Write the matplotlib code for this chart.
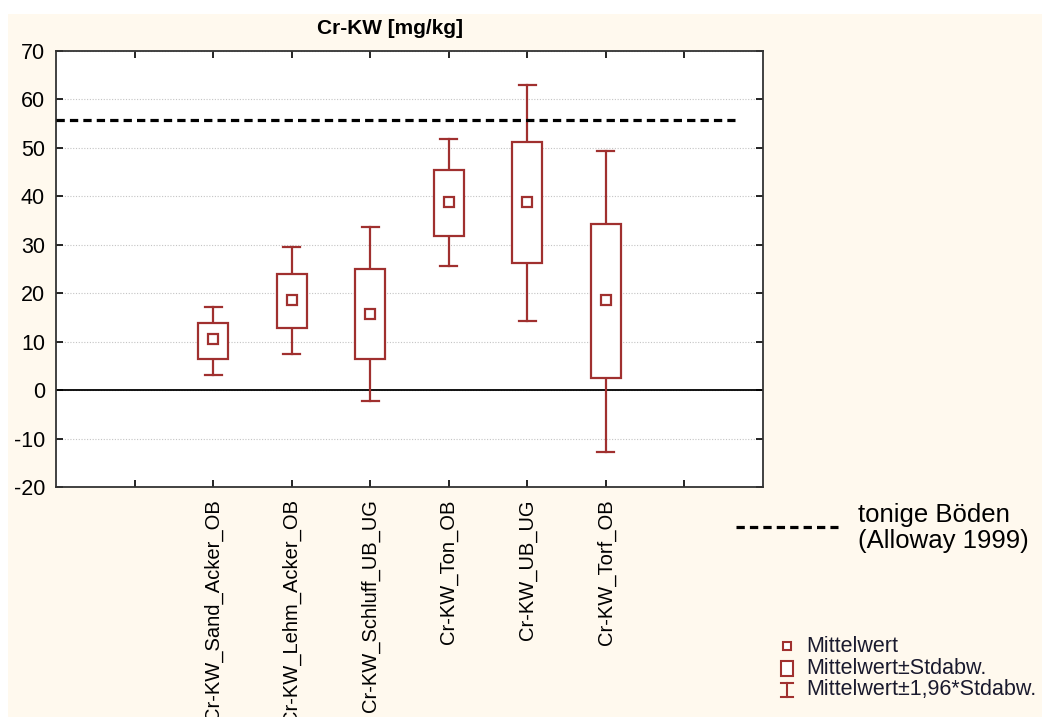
import matplotlib
matplotlib.use("Agg")
import matplotlib.pyplot as plt
from matplotlib.patches import Rectangle
from matplotlib.lines import Line2D

plt.rcParams['font.family'] = ['Liberation Sans', 'DejaVu Sans']
plt.rcParams['axes.unicode_minus'] = False

# Daten
categories = ['Cr-KW_Sand_Acker_OB', 'Cr-KW_Lehm_Acker_OB', 'Cr-KW_Schluff_UB_UG',
              'Cr-KW_Ton_OB', 'Cr-KW_UB_UG', 'Cr-KW_Torf_OB']
mean = [10.5, 18.6, 15.8, 38.8, 38.8, 18.6]
sd_low = [6.5, 12.8, 6.5, 31.9, 26.2, 2.6]
sd_high = [13.8, 24.0, 24.9, 45.4, 51.2, 34.3]
ci_low = [3.2, 7.4, -2.3, 25.6, 14.3, -12.8]
ci_high = [17.1, 29.5, 33.7, 51.8, 63.0, 49.4]
reference_value = 55.7
reference_label = 'tonige Böden\n(Alloway 1999)'

red = '#a0302f'
cream = '#fff9ee'
W, H = 1042, 717

fig = plt.figure(figsize=(W / 100, H / 100), dpi=100, facecolor='white')
fig.add_artist(Rectangle((8 / W, 0), 1, 1 - 14 / H, transform=fig.transFigure,
                         facecolor=cream, edgecolor='none', zorder=0))

ax = fig.add_axes([56 / W, 1 - 487 / H, (763 - 56) / W, (487 - 51) / H])
ax.set_facecolor('white')

positions = list(range(2, 2 + len(categories)))
box_w = 0.386
cap_w = 0.216

for x, m, sl, sh, cl, ch in zip(positions, mean, sd_low, sd_high, ci_low, ci_high):
    ax.add_patch(Rectangle((x - box_w / 2, sl), box_w, sh - sl, facecolor='white',
                           edgecolor=red, lw=1.6, zorder=4))
    ax.plot([x, x], [sh, ch], color=red, lw=1.6, zorder=3)
    ax.plot([x, x], [cl, sl], color=red, lw=1.6, zorder=3)
    ax.plot([x - cap_w / 2, x + cap_w / 2], [ch, ch], color=red, lw=1.6, zorder=3)
    ax.plot([x - cap_w / 2, x + cap_w / 2], [cl, cl], color=red, lw=1.6, zorder=3)
    ax.plot(x, m, marker='s', ms=7, mfc='white', mec=red, mew=1.6, zorder=5)

ax.axhline(0, color='black', lw=1.3, zorder=2)
ax.plot([0, 8.64], [reference_value, reference_value], color='black', lw=2.3,
        linestyle=(0, (2.6, 1.6)), zorder=6)

ax.set_xlim(0, 9)
ax.set_ylim(-20, 70)
ax.set_yticks(range(-20, 71, 10))
ax.set_xticks(range(1, 9))
ax.set_xticklabels([''] + categories + [''], rotation=90, fontsize=14.5)
ax.tick_params(axis='y', labelsize=15.5, direction='in', length=5, width=1.2,
               right=True, pad=8)
ax.tick_params(axis='x', direction='in', length=5, width=1.2, top=True, pad=9)
ax.yaxis.grid(True, linestyle=(0, (1, 1.5)), color='#c4c4c4', lw=0.8)
ax.set_axisbelow(True)
for s in ax.spines.values():
    s.set_color('#333333')
    s.set_linewidth(1.3)

fig.text(390 / W, 1 - 28 / H, 'Cr-KW [mg/kg]', ha='center', va='center',
         fontsize=15, fontweight='bold')

# Legende Referenzlinie
fig.add_artist(Line2D([736 / W, 838 / W], [1 - 527 / H] * 2, color='black', lw=2.3,
                      linestyle=(0, (2.6, 1.6)), transform=fig.transFigure))
fig.text(858 / W, 1 - 503 / H, reference_label, ha='left', va='top',
         fontsize=18.5, linespacing=1.12)

# Legende Boxplot
lx = 787 / W
fig.add_artist(Line2D([lx], [1 - 646 / H], marker='s', ms=6, mfc='white', mec=red,
                      mew=1.5, transform=fig.transFigure))
fig.add_artist(Rectangle((781 / W, 1 - 676 / H), 12 / W, 15 / H, facecolor='white',
                         edgecolor=red, lw=1.5, transform=fig.transFigure))
fig.add_artist(Line2D([lx, lx], [1 - 683 / H, 1 - 697 / H], color=red, lw=1.5,
                      transform=fig.transFigure))
fig.add_artist(Line2D([781 / W, 793 / W], [1 - 683 / H] * 2, color=red, lw=1.5,
                      transform=fig.transFigure))
fig.add_artist(Line2D([781 / W, 793 / W], [1 - 697 / H] * 2, color=red, lw=1.5,
                      transform=fig.transFigure))
for yy, txt in [(646, 'Mittelwert'), (668, 'Mittelwert±Stdabw.'),
                (690, 'Mittelwert±1,96*Stdabw.')]:
    fig.text(806 / W, 1 - yy / H, txt, ha='left', va='center', fontsize=15.5,
             color='#1a1a2e')

fig.savefig('out.png', dpi=100, facecolor=fig.get_facecolor())
